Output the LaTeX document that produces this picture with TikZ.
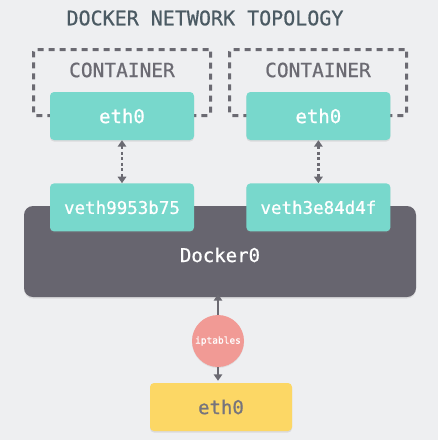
\documentclass[tikz,border=0pt]{standalone}
\usepackage{fontspec}
\setmonofont[FakeBold=0.7]{DejaVu Sans Mono}
\usetikzlibrary{arrows.meta, positioning, shadows}
\definecolor{bgcol}{HTML}{EEEFF1}
\definecolor{tealc}{HTML}{78D8CC}
\definecolor{bridgec}{HTML}{67656F}
\definecolor{iptc}{HTML}{F19A95}
\definecolor{hostc}{HTML}{FCD765}
\definecolor{titlec}{HTML}{4B5A63}
\definecolor{linec}{HTML}{6B6A72}
\tikzstyle{iface} = [rectangle, rounded corners=4pt, fill=tealc, text=white, minimum width=144pt, minimum height=48pt, font=\ttfamily\fontsize{19}{22}\selectfont, drop shadow={opacity=0.18, shadow xshift=0pt, shadow yshift=-1.5pt}]
\tikzstyle{bridge} = [rectangle, rounded corners=9pt, fill=bridgec, text=white, minimum width=392pt, minimum height=91pt, font=\ttfamily\fontsize{19}{22}\selectfont, drop shadow={opacity=0.18, shadow xshift=0pt, shadow yshift=-1.5pt}]
\tikzstyle{container} = [rectangle, draw=linec, line width=3pt, dash pattern=on 6pt off 5pt, rounded corners=2pt, minimum width=177pt, minimum height=66pt]
\tikzstyle{ctext} = [text=linec, font=\ttfamily\fontsize{19.5}{22}\selectfont]
\tikzstyle{filter} = [circle, fill=iptc, text=white, minimum size=52pt, inner sep=0pt, font=\ttfamily\fontsize{9.5}{11}\selectfont, drop shadow={opacity=0.15, shadow xshift=0pt, shadow yshift=-1pt}]
\tikzstyle{link} = [line width=2.7pt, linec, {Triangle[length=6.5pt,width=8.5pt]}-{Triangle[length=6.5pt,width=8.5pt]}]
\tikzstyle{vlink} = [link, dash pattern=on 3pt off 2.5pt]
\tikzstyle{uplink} = [line width=2.7pt, linec, -{Triangle[length=6.5pt,width=8.5pt]}]

\begin{document}
\begin{tikzpicture}[x=1pt, y=-1pt]

	% Background
	\fill[bgcol] (0,0) rectangle (438,440);

	% Title
	\node (title) [text=titlec, font=\ttfamily\fontsize{20}{22}\selectfont] at (205,18) {DOCKER NETWORK TOPOLOGY};

	% Containers
	\node (cont1) [container] at (122,82.5) {};
	\node (cont2) [container] at (318,82.5) {};
	\node (cname1) [ctext] at (122,70) {CONTAINER};
	\node (cname2) [ctext] at (318,70) {CONTAINER};
	\node (eth1) [iface] at (122,116) {eth0};
	\node (eth2) [iface, right=52pt of eth1] {eth0};

	% Bridge
	\node (docker) [bridge, text height=21pt, text depth=0pt] at (220,251.5) {Docker0};
	\node (veth1) [iface, below=43pt of eth1, font=\ttfamily\fontsize{17.5}{20}\selectfont] {veth9953b75};
	\node (veth2) [iface, below=43pt of eth2, font=\ttfamily\fontsize{17.5}{20}\selectfont] {veth3e84d4f};

	% Host
	\node (ipt) [filter] at (218,341) {iptables};
	\node (host) [iface, fill=hostc, text=bridgec!90, minimum width=142pt] at (221,407) {eth0};

	% Arrows
	\draw[vlink] (eth1) -- (veth1);
	\draw[vlink] (eth2) -- (veth2);
	\draw[uplink, shorten >=-3pt] (ipt) -- (ipt |- docker.south);
	\draw[uplink, shorten >=2pt] (ipt) -- (ipt |- host.north);

\end{tikzpicture}
\end{document}
